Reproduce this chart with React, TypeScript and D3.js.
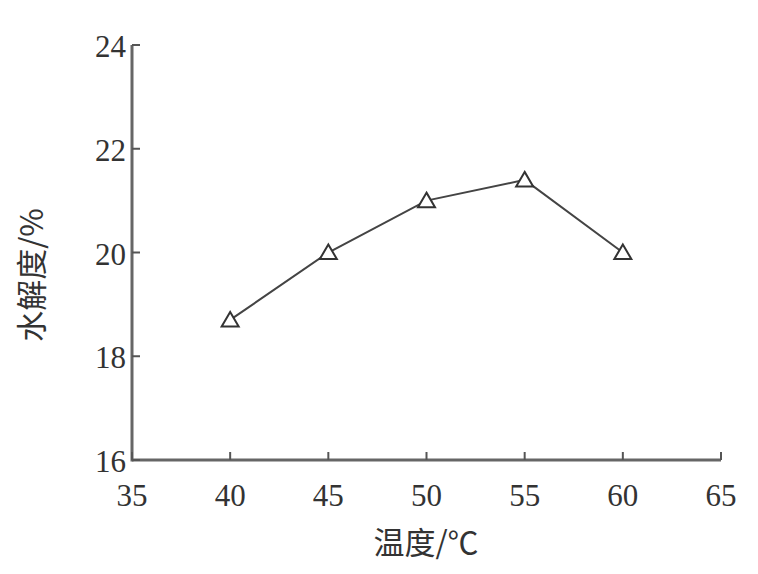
import React from "react";
import * as d3 from "d3";

const temperatures = [40, 45, 50, 55, 60];
const hydrolysis = [18.7, 20.0, 21.0, 21.4, 20.0];
const xTicks = [35, 40, 45, 50, 55, 60, 65];
const yTicks = [16, 18, 20, 22, 24];
const xTitle = "温度/℃";
const yTitle = "水解度/%";

export default function App() {
  const W = 758, H = 574;
  const x = d3.scaleLinear().domain([35, 65]).range([132, 721]);
  const y = d3.scaleLinear().domain([16, 24]).range([460, 45]);
  const line = d3.line<number>().x((_, i) => x(temperatures[i])).y((d) => y(d));
  const serif = "'Liberation Serif', 'DejaVu Serif', serif";
  const cjk = "'Noto Sans CJK SC', sans-serif";
  const tri = (cx: number, cy: number) => {
    const s = 8.5;
    return `M${cx},${cy - 8} L${cx + s},${cy + 6.5} L${cx - s},${cy + 6.5} Z`;
  };
  return (
    <svg width={W} height={H} style={{ position: "absolute", left: 0, top: 0, background: "#fff" }}>
      <rect width={W} height={H} fill="#fff" />
      <line x1={x(35)} x2={x(65)} y1={y(16)} y2={y(16)} stroke="#666" strokeWidth={3} />
      <line x1={x(35)} x2={x(35)} y1={y(16) + 1.5} y2={y(24)} stroke="#666" strokeWidth={3} />
      {xTicks.map((t) => (
        <g key={"xt" + t}>
          <line x1={x(t)} x2={x(t)} y1={y(16)} y2={y(16) - 8} stroke="#555" strokeWidth={2} />
          <text x={x(t)} y={y(16) + 46} textAnchor="middle" fontFamily={serif} fontSize={31} fill="#333">
            {t}
          </text>
        </g>
      ))}
      {yTicks.map((t) => (
        <g key={"yt" + t}>
          <line x1={x(35)} x2={x(35) + 8} y1={y(t)} y2={y(t)} stroke="#555" strokeWidth={2} />
          <text x={x(35) - 6} y={y(t) + 12} textAnchor="end" fontFamily={serif} fontSize={31} fill="#333">
            {t}
          </text>
        </g>
      ))}
      <path d={line(hydrolysis) || ""} fill="none" stroke="#444" strokeWidth={2} />
      {hydrolysis.map((v, i) => (
        <path key={"m" + i} d={tri(x(temperatures[i]), y(v))} fill="#fff" stroke="#333" strokeWidth={2} />
      ))}
      <text x={426} y={554} textAnchor="middle" fontFamily={cjk} fontSize={31} fill="#333">
        {xTitle}
      </text>
      <text
        transform={`translate(43,${275}) rotate(-90)`}
        textAnchor="middle"
        fontFamily={cjk}
        fontSize={31}
        fill="#333"
      >
        {yTitle}
      </text>
    </svg>
  );
}
